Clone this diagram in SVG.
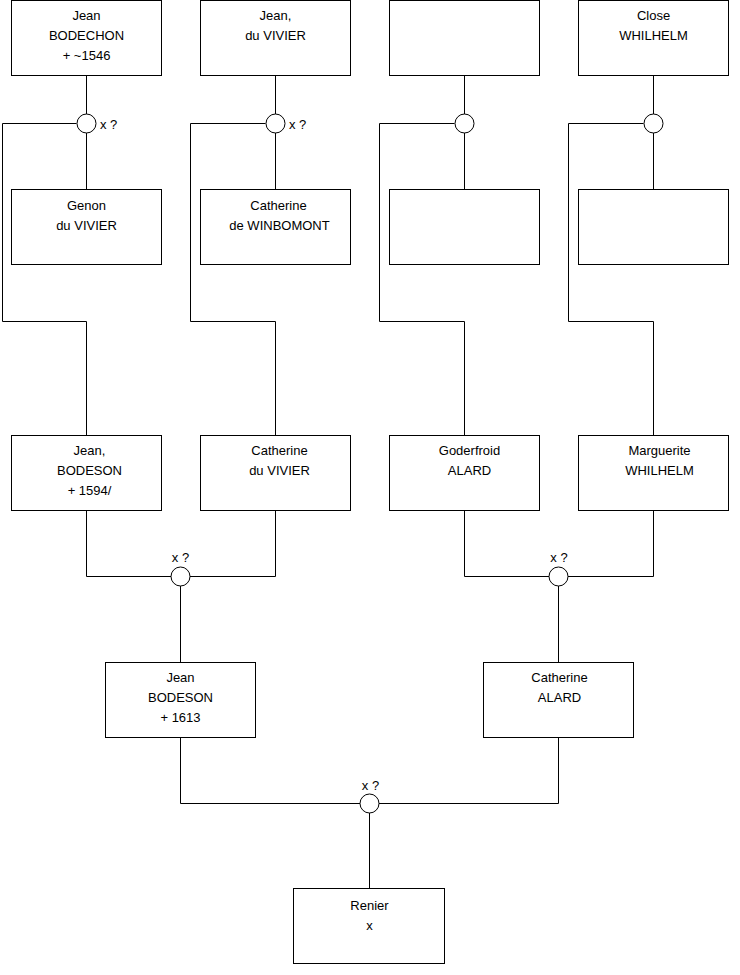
<svg xmlns="http://www.w3.org/2000/svg" width="740" height="975" viewBox="0 0 740 975">
<style>
.b{fill:#fff;stroke:#000;stroke-width:1}
.c{fill:#fff;stroke:#000;stroke-width:1}
.l{fill:none;stroke:#000;stroke-width:1}
text{font-family:"Liberation Sans",Arial,sans-serif;font-size:13px;fill:#000;text-anchor:middle}
.s{text-anchor:start}
</style>
<rect width="740" height="975" fill="#fff"/>
<g id="connectors">
<path class="l" d="M86.5 76V189M275.5 76V189M464.5 76V189M653.5 76V189"/>
<path class="l" d="M76.5 123.5H2.5V321.5H86.5V435"/>
<path class="l" d="M265.5 123.5H190.5V321.5H275.5V435"/>
<path class="l" d="M454.5 123.5H379.5V321.5H464.5V435"/>
<path class="l" d="M643.5 123.5H568.5V321.5H653.5V435"/>
<path class="l" d="M86.5 510V576.5H275.5V510M180.5 576.5V662"/>
<path class="l" d="M464.5 510V576.5H653.5V510M558.5 576.5V662"/>
<path class="l" d="M180.5 737V803.5H558.5V737M369.5 803.5V888"/>
<circle class="c" cx="86.5" cy="123.5" r="9.5"/>
<circle class="c" cx="275.5" cy="123.5" r="9.5"/>
<circle class="c" cx="464.5" cy="123.5" r="9.5"/>
<circle class="c" cx="653.5" cy="123.5" r="9.5"/>
<circle class="c" cx="180.5" cy="576.5" r="9.5"/>
<circle class="c" cx="558.5" cy="576.5" r="9.5"/>
<circle class="c" cx="369.5" cy="803.5" r="9.5"/>
<text class="s" x="100" y="129">x ?</text>
<text class="s" x="289" y="129">x ?</text>
<text x="180.5" y="562">x ?</text>
<text x="559" y="562">x ?</text>
<text x="370.5" y="790">x ?</text>
</g>
<g id="n1"><rect class="b" x="11.5" y="0.5" width="150" height="75"/><text x="86.5" y="20">Jean</text><text x="86.5" y="40">BODECHON</text><text x="86.5" y="60">+ ~1546</text></g>
<g id="n2"><rect class="b" x="200.5" y="0.5" width="150" height="75"/><text x="275.5" y="20">Jean,</text><text x="275.5" y="40">du VIVIER</text></g>
<g id="n3"><rect class="b" x="389.5" y="0.5" width="150" height="75"/></g>
<g id="n4"><rect class="b" x="578.5" y="0.5" width="150" height="75"/><text x="653.5" y="20">Close</text><text x="653.5" y="40">WHILHELM</text></g>
<g id="n5"><rect class="b" x="11.5" y="189.5" width="150" height="75"/><text x="86.5" y="210">Genon</text><text x="86.5" y="230">du VIVIER</text></g>
<g id="n6"><rect class="b" x="200.5" y="189.5" width="150" height="75"/><text x="278.5" y="210">Catherine</text><text x="279.5" y="230">de WINBOMONT</text></g>
<g id="n7"><rect class="b" x="389.5" y="189.5" width="150" height="75"/></g>
<g id="n8"><rect class="b" x="578.5" y="189.5" width="150" height="75"/></g>
<g id="n9"><rect class="b" x="11.5" y="435.5" width="150" height="75"/><text x="89.5" y="455">Jean,</text><text x="89.5" y="475">BODESON</text><text x="89.5" y="495">+ 1594/</text></g>
<g id="n10"><rect class="b" x="200.5" y="435.5" width="150" height="75"/><text x="279.5" y="455">Catherine</text><text x="279.5" y="475">du VIVIER</text></g>
<g id="n11"><rect class="b" x="389.5" y="435.5" width="150" height="75"/><text x="469.5" y="455">Goderfroid</text><text x="469.5" y="475">ALARD</text></g>
<g id="n12"><rect class="b" x="578.5" y="435.5" width="150" height="75"/><text x="659.5" y="455">Marguerite</text><text x="659.5" y="475">WHILHELM</text></g>
<g id="n13"><rect class="b" x="105.5" y="662.5" width="150" height="75"/><text x="180.5" y="682">Jean</text><text x="180.5" y="702">BODESON</text><text x="180.5" y="722">+ 1613</text></g>
<g id="n14"><rect class="b" x="483.5" y="662.5" width="150" height="75"/><text x="559.5" y="682">Catherine</text><text x="559.5" y="702">ALARD</text></g>
<g id="n15"><rect class="b" x="293.5" y="888.5" width="151" height="75"/><text x="369.5" y="910">Renier</text><text x="369.5" y="930">x</text></g>
</svg>
